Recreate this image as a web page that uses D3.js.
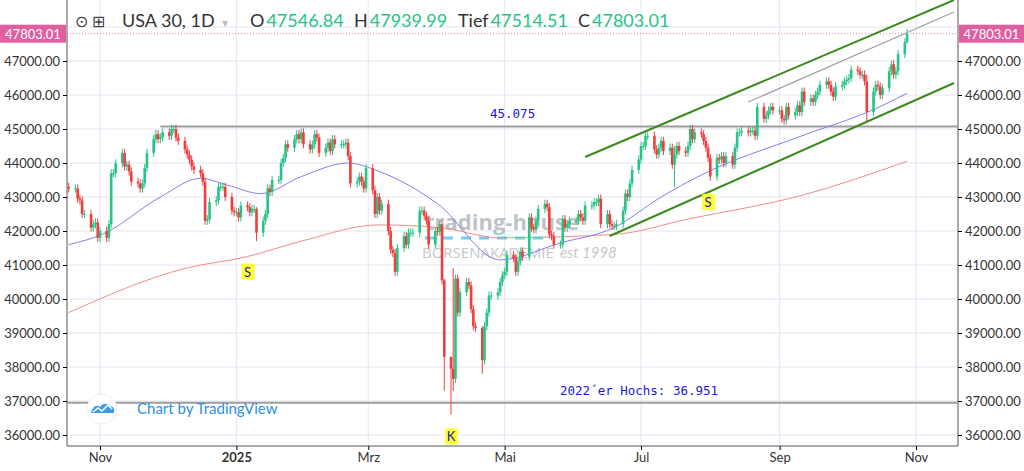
<!DOCTYPE html>
<html><head><meta charset="utf-8">
<script src="https://cdn.jsdelivr.net/npm/d3@7"></script>
<style>body{margin:0;background:#fff;font-family:Lato,"Open Sans",sans-serif}</style>
</head><body><svg id="c" width="1024" height="471"></svg>
<script>
// weekly closes, first week starts Mon 2024-10-14 (values right-aligned in first week)
const weeklyCloses = [
[43250],
[43250,42950,42900,42500,42500],
[42100,42200,42250,41800,42000],
[41800,42200,43700,43700,43990],
[44300,43900,43950,43750,43450],
[43400,43250,43400,43850,44300],
[44700,44850,44700,44750,44900],
[44800,45000,45000,44750,44650],
[44400,44250,44100,43900,43800],
[43700,43450,42300,42350,42850],
[42900,43300,43300,43300,43000],
[42600,42550,42550,42400,42750],
[42700,42550,42650,42650,41950],
[42300,42500,43250,43150,43500],
[43500,44000,44150,44550,44450],
[44700,44850,44700,44900,44550],
[44400,44550,44850,44750,44300],
[44450,44600,44350,44700,44550],
[44550,44550,44600,44200,43400],
[43450,43600,43450,43250,43850],
[43200,42500,43000,42600,42800],
[42000,41450,41350,40800,41500],
[41850,41600,41950,41950,41950],
[42600,42600,42450,42300,41600],
[42000,41980,42200,40550,38300],
[37950,37650,40600,39600,40200],
[40500,40400,39700,39200,39150],
[38200,39200,39600,40100,40100],
[40200,40500,40700,40800,41300],
[41200,40800,41100,41400,41250],
[42400,42100,42050,42300,42650],
[42800,42700,41900,41850,41600],
[41600,42350,42100,42200,42300],
[42300,42500,42400,42300,42750],
[42750,42850,42850,42950,42200],
[42500,42200,42150,42150,42200],
[42600,43100,43000,43400,43800],
[44100,44500,44500,44800,44800],
[44400,44250,44450,44650,44350],
[44450,43950,44250,44500,44350],
[44300,44500,45000,44700,44900],
[44850,44650,44450,44150,43600],
[44150,44100,44200,44000,44200],
[43950,44450,44900,44900,44950],
[44900,44950,44950,44800,45650],
[45300,45400,45550,45650,45550],
[45550,45300,45250,45650,45400],
[45500,45700,45500,46100,45800],
[45900,45800,46000,46100,46300],
[46400,46300,46100,45950,46250],
[46300,46400,46450,46500,46750],
[46700,46600,46600,46400,45500],
[46100,46300,46250,46000,46200],
[46700,46900,46600,46700,47200],
[47550,47803.01]
];
const firstOpen = 43300;
const wickOverrides = [["2025-04-07",36600,38300],["2025-04-04",37300,40600],["2025-04-08",37300,40900],["2025-04-21",37800,39200],["2025-10-10",45200,46600],["2025-10-28",47514.51,47939.99],["2025-07-16",43300,44500],["2025-01-10",41700,42700]];
const ma50 = [["2024-10-18",41600],["2024-11-02",41900],["2024-11-28",43000],["2024-12-16",43550],["2024-12-28",43350],["2025-01-12",43100],["2025-01-30",43600],["2025-02-20",44000],["2025-03-06",43750],["2025-04-01",42800],["2025-04-29",41150],["2025-05-26",41650],["2025-06-19",42100],["2025-07-10",43000],["2025-07-28",43650],["2025-09-11",44800],["2025-10-14",45600],["2025-10-28",46050]];
const ma200 = [["2024-10-18",39600],["2024-12-09",40900],["2025-01-06",41250],["2025-01-30",41700],["2025-03-06",42180],["2025-04-02",42100],["2025-04-29",41800],["2025-06-19",41900],["2025-07-22",42350],["2025-09-11",43050],["2025-10-28",44050]];
const yTicks = [36000,37000,38000,39000,40000,41000,42000,43000,44000,45000,46000,47000];
const xTicks = [["2024-11-01","Nov"],["2025-01-01","2025"],["2025-03-01","Mrz"],["2025-05-01","Mai"],["2025-07-01","Jul"],["2025-09-01","Sep"],["2025-11-01","Nov"]];
const channelUpper = [["2025-06-06",44176],["2025-11-18",48794]];
const channelLower = [["2025-06-17",41853],["2025-11-18",46353]];
const grayTrend = [["2025-08-18",45794],["2025-11-18",48441]];
const levels = [[45075,"45.075","2024-11-28"],[36951,"2022´er Hochs: 36.951","2024-10-01"]];
const markers = [["2025-01-06",41250,"S"],["2025-07-31",43300,"S"],["2025-04-07",36400,"K"]];

const P = d3.timeParse("%Y-%m-%d");
const svg = d3.select("#c");
const L=67,R=958,T=0,B=446;
const x = d3.scaleTime().domain([P("2024-11-01"),P("2025-11-01")]).range([100,916]);
const y = d3.scaleLinear().domain([36000,47000]).range([435,61]);

const start = P("2024-10-14");
let candles=[], prev=firstOpen;
weeklyCloses.forEach((wk,i)=>{
  const off = i===0 ? 5-wk.length : 0;
  wk.forEach((c,j)=>{
    const d = d3.timeDay.offset(start, i*7+off+j);
    const o = prev;
    candles.push({d,o,c,h:Math.max(o,c)+120,l:Math.min(o,c)-120});
    prev=c;
  });
});
const fmt=d3.timeFormat("%Y-%m-%d");
wickOverrides.forEach(([ds,l,h])=>{const k=candles.find(c=>fmt(c.d)===ds); if(k){k.l=l;k.h=h;}});
candles[candles.length-1].o=47546.84;

const defs=svg.append("defs");
defs.append("clipPath").attr("id","pc").append("rect").attr("x",L).attr("y",T).attr("width",R-L).attr("height",B-T);
const g=svg.append("g");
g.selectAll(".hg").data(yTicks.concat([48000])).join("line").attr("x1",L).attr("x2",R).attr("y1",d=>y(d)).attr("y2",d=>y(d)).attr("stroke","#e6e4f3");
g.selectAll(".vg").data(xTicks).join("line").attr("x1",d=>x(P(d[0]))).attr("x2",d=>x(P(d[0]))).attr("y1",T).attr("y2",B).attr("stroke","#e6e4f3");
svg.append("line").attr("x1",L).attr("x2",L).attr("y1",0).attr("y2",B).attr("stroke","#555");
svg.append("line").attr("x1",R).attr("x2",R).attr("y1",0).attr("y2",B).attr("stroke","#555");
svg.append("line").attr("x1",L).attr("x2",R).attr("y1",B).attr("y2",B).attr("stroke","#555");
svg.append("g").attr("transform",`translate(${L},0)`).call(d3.axisLeft(y).tickValues(yTicks).tickFormat(d3.format(".2f")).tickSize(4).tickSizeOuter(0))
 .call(a=>{a.select(".domain").remove();a.selectAll("text").attr("font-size",13).attr("fill","#333").attr("font-family","Lato");});
svg.append("g").attr("transform",`translate(${R},0)`).call(d3.axisRight(y).tickValues(yTicks).tickFormat(d3.format(".2f")).tickSize(4).tickSizeOuter(0))
 .call(a=>{a.select(".domain").remove();a.selectAll("text").attr("font-size",13).attr("fill","#333").attr("font-family","Lato");});
svg.append("g").attr("transform",`translate(0,${B})`).call(d3.axisBottom(x).tickValues(xTicks.map(d=>P(d[0]))).tickFormat((d,i)=>xTicks[i][1]).tickSize(4).tickSizeOuter(0))
 .call(a=>{a.select(".domain").remove();a.selectAll("text").attr("font-size",13).attr("fill","#333").attr("font-family","Lato");a.selectAll("text").filter((d,i)=>i===1).attr("font-weight","bold");});

const pg=svg.append("g").attr("clip-path","url(#pc)");
pg.append("text").attr("x",425).attr("y",230).text("trading-house").attr("font-size",22).attr("font-weight","bold").attr("fill","#8a9399").attr("opacity",0.55).attr("font-family","Open Sans");
pg.append("line").attr("x1",425).attr("x2",545).attr("y1",238).attr("y2",238).attr("stroke","#3fb4f0").attr("stroke-width",3).attr("stroke-dasharray","10,8").attr("opacity",0.7);
pg.append("text").attr("x",422).attr("y",258).text("BÖRSENAKADEMIE").attr("font-size",15).attr("fill","#8a9399").attr("opacity",0.5).attr("font-family","Open Sans");
pg.append("text").attr("x",560).attr("y",258).text("est 1998").attr("font-size",15).attr("font-style","italic").attr("fill","#8a9399").attr("opacity",0.5);
levels.forEach(([v,t,ds],i)=>{
  pg.append("line").attr("x1",i===0?x(P(ds)):L).attr("x2",R).attr("y1",y(v)).attr("y2",y(v)).attr("stroke","#9e9e9e").attr("stroke-width",2);
  svg.append("text").attr("x",i===0?490:560).attr("y",y(v)-8).text(t).attr("fill","#1818e0").attr("font-size",12.5).attr("font-family","DejaVu Sans Mono");
});
pg.append("line").attr("x1",L).attr("x2",R).attr("y1",y(47803.01)).attr("y2",y(47803.01)).attr("stroke","#e05aa0").attr("stroke-dasharray","1,2").attr("stroke-width",0.8);
const ln=d3.line().x(d=>x(P(d[0]))).y(d=>y(d[1])).curve(d3.curveMonotoneX);
pg.append("path").attr("d",ln(ma200)).attr("fill","none").attr("stroke","#f58a8a").attr("stroke-width",1);
pg.append("path").attr("d",ln(ma50)).attr("fill","none").attr("stroke","#8080f0").attr("stroke-width",1);
const bw=2.6;
const cg=pg.selectAll(".cd").data(candles).join("g").attr("fill",d=>d.c>=d.o?"#26c485":"#f23d3d").attr("stroke",d=>d.c>=d.o?"#26c485":"#f23d3d");
cg.append("line").attr("x1",d=>x(d.d)).attr("x2",d=>x(d.d)).attr("y1",d=>y(d.h)).attr("y2",d=>y(d.l)).attr("stroke-width",1);
cg.append("rect").attr("x",d=>x(d.d)-bw/2).attr("width",bw).attr("y",d=>y(Math.max(d.o,d.c))).attr("height",d=>Math.max(1,Math.abs(y(d.o)-y(d.c)))).attr("stroke","none");
const sl=d3.line().x(d=>x(P(d[0]))).y(d=>y(d[1]));
pg.append("path").attr("d",sl(channelUpper)).attr("stroke","#3a8a1c").attr("stroke-width",2).attr("fill","none");
pg.append("path").attr("d",sl(channelLower)).attr("stroke","#3a8a1c").attr("stroke-width",2).attr("fill","none");
pg.append("path").attr("d",sl(grayTrend)).attr("stroke","#a0a0a0").attr("stroke-width",1.2).attr("fill","none");
markers.forEach(([ds,v,t])=>{
  const cx=x(P(ds)), cy=y(v)+16;
  svg.append("rect").attr("x",cx-6).attr("y",cy-9).attr("width",13).attr("height",16).attr("fill","#ffff33");
  svg.append("text").attr("x",cx).attr("y",cy+4).attr("text-anchor","middle").text(t).attr("font-size",13).attr("fill","#1a1aa8").attr("font-family","Lato");
});
const hd=svg.append("text").attr("y",27).attr("font-size",18).attr("font-family","Lato");
hd.append("tspan").attr("x",75).text("⊙ ⊞ ").attr("fill","#444").attr("font-size",16);
hd.append("tspan").attr("x",122).text("USA 30, 1D").attr("fill","#333");
hd.append("tspan").attr("x",222).text("▾").attr("fill","#bbb").attr("font-size",12);
const hv=[["O","47546.84",250],["H","47939.99",354],["Tief","47514.51",458],["C","47803.01",578]];
hv.forEach(([k,v,px])=>{const t=svg.append("text").attr("x",px).attr("y",27).attr("font-size",18).attr("font-family","Lato");t.append("tspan").text(k).attr("fill","#333");t.append("tspan").text(v).attr("fill","#26c485").attr("dx",2);});
[[0,L-1],[R+1,1024-R-1]].forEach(([px,w])=>{
  svg.append("rect").attr("x",px).attr("y",y(47803.01)-9).attr("width",w).attr("height",18).attr("fill","#e0609f");
  svg.append("text").attr("x",px+w/2).attr("y",y(47803.01)+5).attr("text-anchor","middle").text("47803.01").attr("fill","#fff").attr("font-size",13).attr("font-family","Lato");
});
const lg=svg.append("g").attr("transform","translate(88,397)");
lg.append("circle").attr("cx",14).attr("cy",12).attr("r",15).attr("fill","#fff").attr("stroke","#eee");
lg.append("path").attr("d","M3,16 Q6,6 12,10 Q16,4 22,9 Q27,9 26,16 Z").attr("fill","#3b9be8");
lg.append("path").attr("d","M5,15 L10,11 L14,14 L20,8 L24,12").attr("stroke","#fff").attr("stroke-width",1.5).attr("fill","none");
svg.append("text").attr("x",137).attr("y",414).text("Chart by TradingView").attr("fill","#2f8fe0").attr("font-size",15).attr("font-family","Lato");
</script></body></html>
